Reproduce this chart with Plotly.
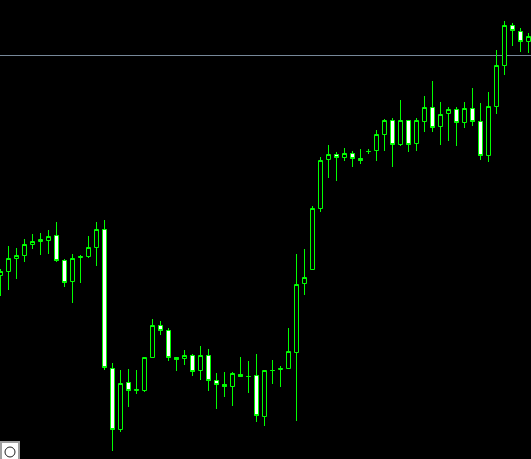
import plotly.graph_objects as go

# price, one bar every 8 px
bars = list(range(67))
open_ = [183.5, 187.5, 200.5, 203.5, 214.5, 217.5, 218.5, 223.5, 198.5, 177.5, 201.5, 202.5, 211.5, 229.5, 90.5, 29.5, 76.5,
         68.5, 68.5, 101.5, 133.5, 128.5, 101.5, 100.5, 103.5, 88.5, 103.5, 78.5, 74.5, 72.5, 84.5, 82.5, 83.5, 42.5,
         88.5, 89.5, 90.5, 106.5, 175.5, 189.5, 250.5, 299.5, 304.5, 301.5, 305.5, 300.5, 307.5, 308.5, 324.5, 338.5,
         314.5, 338.5, 315.5, 337.5, 351.5, 332.5, 345.5, 349.5, 336.5, 350.5, 337.5, 303.5, 352.5, 393.5, 433.5, 427.5, 417.5]
close = [187.5, 200.5, 203.5, 214.5, 217.5, 219.5, 222.5, 198.5, 176.5, 200.5, 202.5, 211.5, 229.5, 91.5, 29.5, 75.5, 68.5,
         69.5, 101.5, 133.5, 128.5, 101.5, 99.5, 103.5, 87.5, 103.5, 78.5, 74.5, 72.5, 85.5, 82.5, 82.5, 43.5, 88.5,
         88.5, 90.5, 107.5, 174.5, 181.5, 250.5, 298.5, 304.5, 301.5, 305.5, 300.5, 298.5, 307.5, 324.5, 338.5, 314.5,
         338.5, 314.5, 338.5, 351.5, 331.5, 344.5, 349.5, 336.5, 350.5, 337.5, 303.5, 352.5, 393.5, 433.5, 428.5, 417.5, 422.5]
high = [190, 213, 211, 220, 225, 226, 229, 237, 200, 205, 204, 223, 237, 239, 96, 89, 90,
        89, 102, 140, 138, 131, 102, 109, 105, 113, 110, 86, 87, 87, 102, 98, 105, 89,
        99, 93, 131, 205, 210, 253, 302, 314, 307, 311, 308, 310, 310, 329, 340, 341,
        359, 339, 341, 363, 378, 357, 352, 352, 357, 371, 356, 367, 409, 438, 436, 431, 426]
low = [163, 169, 180, 197, 210, 204, 205, 197, 172, 156, 176, 201, 193, 89, 8, 27, 52,
       65, 67, 101, 124, 98, 88, 94, 83, 79, 68, 50, 62, 53, 82, 66, 37, 33,
       75, 72, 90, 38, 164, 189, 247, 281, 278, 298, 292, 295, 305, 298, 308, 292,
       313, 307, 308, 327, 327, 314, 318, 313, 331, 333, 299, 297, 345, 384, 413, 407, 406]
bid_line = 403.5

fig = go.Figure(go.Candlestick(
    x=bars, open=open_, high=high, low=low, close=close,
    increasing=dict(line=dict(color="#00ff00", width=1), fillcolor="#000000"),
    decreasing=dict(line=dict(color="#00ff00", width=1), fillcolor="#ffffff"),
    whiskerwidth=0,
    hoverinfo="skip",
))

# bid line under the candles
fig.add_shape(type="line", xref="paper", x0=0, x1=1, y0=bid_line, y1=bid_line,
              line=dict(color="#778899", width=1), layer="below")

# small round button in the corner
fig.add_shape(type="rect", xref="paper", yref="paper", x0=0, x1=20 / 531, y0=0, y1=18 / 459,
              line=dict(width=0), fillcolor="#a0a0a0")
fig.add_shape(type="rect", xref="paper", yref="paper", x0=2 / 531, x1=18 / 531, y0=0, y1=16 / 459,
              line=dict(width=0), fillcolor="#ffffff")
fig.add_shape(type="circle", xref="paper", yref="paper", x0=5 / 531, x1=15 / 531, y0=2 / 459, y1=12 / 459,
              line=dict(color="#202020", width=1), fillcolor="#ffffff")

fig.update_layout(
    width=531, height=459,
    margin=dict(l=0, r=0, t=0, b=0),
    paper_bgcolor="#000000", plot_bgcolor="#000000",
    showlegend=False,
    boxgap=0.5, boxgroupgap=0,
    xaxis=dict(visible=False, range=[-0.0625, 66.3125], rangeslider=dict(visible=False)),
    yaxis=dict(visible=False, range=[0, 459]),
)
# page margin would push the plot 8 px in
fig.write_html("out.html", config={"displayModeBar": False},
               post_script="document.body.style.margin='0';document.body.style.overflow='hidden';")
